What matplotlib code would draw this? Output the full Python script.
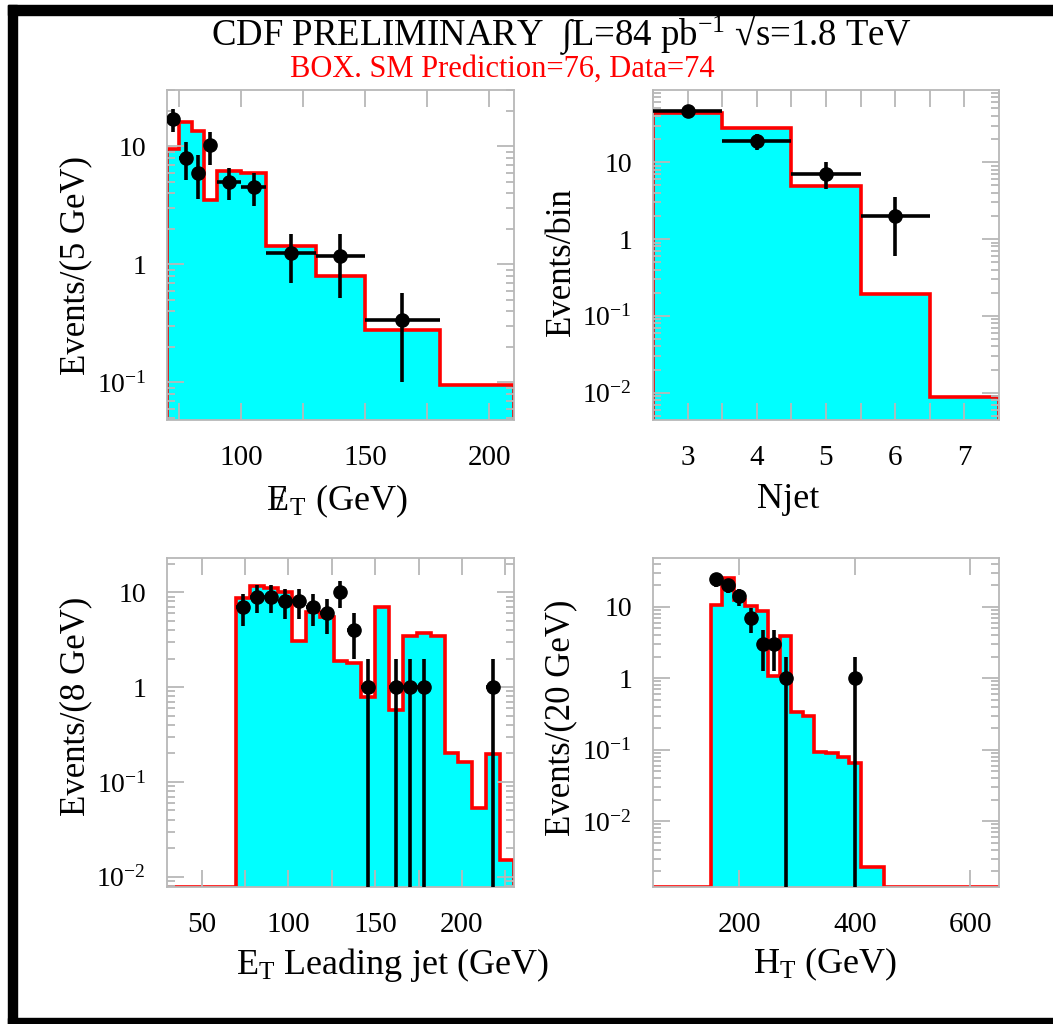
import numpy as np
import matplotlib
matplotlib.use('Agg')
import matplotlib.pyplot as plt
from matplotlib.patches import Rectangle
from matplotlib.ticker import LogLocator, MultipleLocator, FixedLocator, FuncFormatter, NullFormatter

plt.rcParams['font.family'] = ['Liberation Serif', 'DejaVu Serif']
plt.rcParams['mathtext.fontset'] = 'custom'
plt.rcParams['mathtext.rm'] = 'Liberation Serif'
plt.rcParams['mathtext.it'] = 'Liberation Serif:italic'
plt.rcParams['mathtext.bf'] = 'Liberation Serif:bold'

# missing E_T, events / 5 GeV
met_edges = [70, 75, 80, 85, 90, 100, 110, 130, 150, 180, 210]
met_mc = [9.5, 16, 13.5, 3.5, 6.2, 5.9, 1.42, 0.79, 0.28, 0.096]
met_x = [72.5, 77.5, 82.5, 87.5, 95, 105, 120, 140, 165]
met_xerr = [2.5, 2.5, 2.5, 2.5, 5, 5, 10, 10, 15]
met_y = [17.2, 8.0, 6.0, 10.2, 5.0, 4.5, 1.25, 1.18, 0.34]
met_lo = [13.1, 5.2, 3.6, 6.9, 3.5, 3.1, 0.70, 0.52, 0.10]
met_hi = [20.7, 10.8, 8.4, 13.1, 6.6, 6.0, 1.8, 1.8, 0.57]

# jet multiplicity
njet_edges = [2.5, 3.5, 4.5, 5.5, 6.5, 7.5]
njet_mc = [44, 28, 4.9, 0.19, 0.0087]
njet_x = [3, 4, 5, 6]
njet_y = [46, 19, 7, 2]
njet_lo = [39, 14.6, 4.5, 0.6]
njet_hi = [53, 23.4, 10, 3.5]

# leading jet E_T, events / 8 GeV
jet_edges = [30] + list(range(70, 231, 8))
jet_mc = [0, 8.7, 11.6, 11, 10, 3.1, 6.2, 5.5, 1.88, 1.8, 0.79, 7.0, 0.58,
          3.5, 3.7, 3.5, 0.2, 0.164, 0.053, 0.195, 0.015]
jet_x = [74, 82, 90, 98, 106, 114, 122, 130, 138, 146, 162, 170, 178, 218]
jet_y = [7, 9, 9, 8, 8, 7, 6, 10, 4, 1, 1, 1, 1, 1]
jet_lo = [4.4, 6.0, 6.0, 5.2, 5.2, 4.4, 3.6, 6.8, 2.0, 0, 0, 0, 0, 0]
jet_hi = [9.6, 12, 12, 10.8, 10.8, 9.6, 8.4, 13.2, 6.0, 2, 2, 2, 2, 2]

# H_T, events / 20 GeV
ht_edges = [50] + list(range(150, 451, 20)) + [650]
ht_mc = [0, 10.7, 24.8, 12.3, 10.3, 8.6, 1.08, 3.9, 0.34, 0.30, 0.092,
         0.090, 0.079, 0.066, 0.0023, 0.0023, 0]
ht_x = [160, 180, 200, 220, 240, 260, 280, 400]
ht_y = [24, 20, 14, 7, 3, 3, 1, 1]
ht_lo = [19.1, 15.5, 10.3, 4.35, 1.27, 1.27, 0, 0]
ht_hi = [28.9, 24.5, 17.7, 9.65, 4.73, 4.73, 2, 2]

GREY = '#b8b8b8'
XLABEL_FS = 26
YLABEL_FS = 25


def dec_label(v, pos):
    e = int(round(np.log10(v)))
    if e == 0:
        return '1'
    if e == 1:
        return '10'
    return r'$10^{%d}$' % e


def panel(ax, edges, mc, x, xerr, y, lo, hi, xlim, ylim):
    mc_plot = np.clip(mc, ylim[0], None)
    ax.stairs(mc_plot, edges, baseline=1e-6, fill=True, color='#00ffff', zorder=1)
    ax.stairs(mc_plot, edges, baseline=1e-6, color='red', lw=2.6, zorder=2)
    y = np.array(y)
    yerr = [y - np.array(lo), np.array(hi) - y]
    ax.errorbar(x, y, xerr=xerr, yerr=yerr, fmt='o', color='black', ms=9.5,
                elinewidth=2.6, capsize=0, zorder=4)
    ax.set_yscale('log')
    ax.set_xlim(*xlim)
    ax.set_ylim(*ylim)
    ax.set_axisbelow(False)
    ax.yaxis.set_major_locator(LogLocator(base=10, numticks=12))
    ax.yaxis.set_minor_locator(LogLocator(base=10, subs=np.arange(2, 10), numticks=12))
    ax.yaxis.set_major_formatter(FuncFormatter(dec_label))
    ax.yaxis.set_minor_formatter(NullFormatter())
    ax.tick_params(which='both', direction='in', top=True, right=True,
                   color=GREY, width=1.3)
    ax.tick_params(axis='x', labelsize=21, pad=18)
    ax.tick_params(axis='y', labelsize=20, pad=15)
    ax.tick_params(which='major', length=12)
    ax.tick_params(axis='y', which='minor', length=6)
    ax.tick_params(axis='x', which='minor', length=12)
    for s in ax.spines.values():
        s.set_color(GREY)
        s.set_linewidth(1.3)


fig = plt.figure(figsize=(10.53, 10.24), dpi=100)

ax1 = fig.add_axes([0.1586, 0.5898, 0.3295, 0.3223])
panel(ax1, met_edges, met_mc, met_x, met_xerr, met_y, met_lo, met_hi,
      (70, 210), (0.048, 30))
ax1.xaxis.set_major_locator(MultipleLocator(50))
ax1.xaxis.set_minor_locator(MultipleLocator(25))
ax1.set_xlabel(r'${\mathrm{E}\!\!\!/\,}_{\mathrm{T}}$ (GeV)', fontsize=XLABEL_FS)
ax1.set_ylabel('Events/(5 GeV)', fontsize=YLABEL_FS)
ax1.xaxis.set_label_coords(0.49, -0.19)
ax1.yaxis.set_label_coords(-0.215, 0.467)

ax2 = fig.add_axes([0.6201, 0.5898, 0.3286, 0.3223])
panel(ax2, njet_edges, njet_mc, njet_x, 0.5, njet_y, njet_lo, njet_hi,
      (2.5, 7.5), (0.0044, 87))
ax2.xaxis.set_major_locator(MultipleLocator(1))
ax2.xaxis.set_minor_locator(MultipleLocator(0.5))
ax2.set_xlabel('Njet', fontsize=XLABEL_FS)
ax2.set_ylabel('Events/bin', fontsize=YLABEL_FS)
ax2.xaxis.set_label_coords(0.39, -0.19)
ax2.yaxis.set_label_coords(-0.218, 0.48)

ax3 = fig.add_axes([0.1586, 0.1338, 0.3295, 0.3213])
panel(ax3, jet_edges, jet_mc, jet_x, 4, jet_y, jet_lo, jet_hi,
      (30, 230), (0.0078, 23))
ax3.xaxis.set_major_locator(MultipleLocator(50))
ax3.xaxis.set_minor_locator(MultipleLocator(25))
ax3.set_xlabel(r'$\mathrm{E_T}$ Leading jet (GeV)', fontsize=XLABEL_FS)
ax3.set_ylabel('Events/(8 GeV)', fontsize=YLABEL_FS)
ax3.xaxis.set_label_coords(0.65, -0.178)
ax3.yaxis.set_label_coords(-0.215, 0.55)

ax4 = fig.add_axes([0.6201, 0.1338, 0.3286, 0.3213])
panel(ax4, ht_edges, ht_mc, ht_x, 10, ht_y, ht_lo, ht_hi,
      (50, 650), (0.0012, 48))
ax4.xaxis.set_major_locator(FixedLocator([200, 400, 600]))
ax4.set_xlabel(r'$\mathrm{H_T}$ (GeV)', fontsize=XLABEL_FS)
ax4.set_ylabel('Events/(20 GeV)', fontsize=YLABEL_FS)
ax4.xaxis.set_label_coords(0.497, -0.178)
ax4.yaxis.set_label_coords(-0.218, 0.514)

fig.text(0.533, 0.966, r'CDF PRELIMINARY  ∫L=84 pb$^{-1}$ √s=1.8 TeV',
         ha='center', va='center', fontsize=26.5)
fig.text(0.477, 0.932, 'BOX. SM Prediction=76, Data=74', color='red',
         ha='center', va='center', fontsize=22)

# black frame around the page (top, left, bottom)
fig.add_artist(Rectangle((0.0076, 0.9854), 1.0, 0.0097, transform=fig.transFigure,
                         color='black'))
fig.add_artist(Rectangle((0.0076, 0.0), 0.0085, 0.995, transform=fig.transFigure,
                         color='black'))
fig.add_artist(Rectangle((0.0076, 0.0), 1.0, 0.006, transform=fig.transFigure,
                         color='black'))

fig.savefig('out.png', dpi=100)
